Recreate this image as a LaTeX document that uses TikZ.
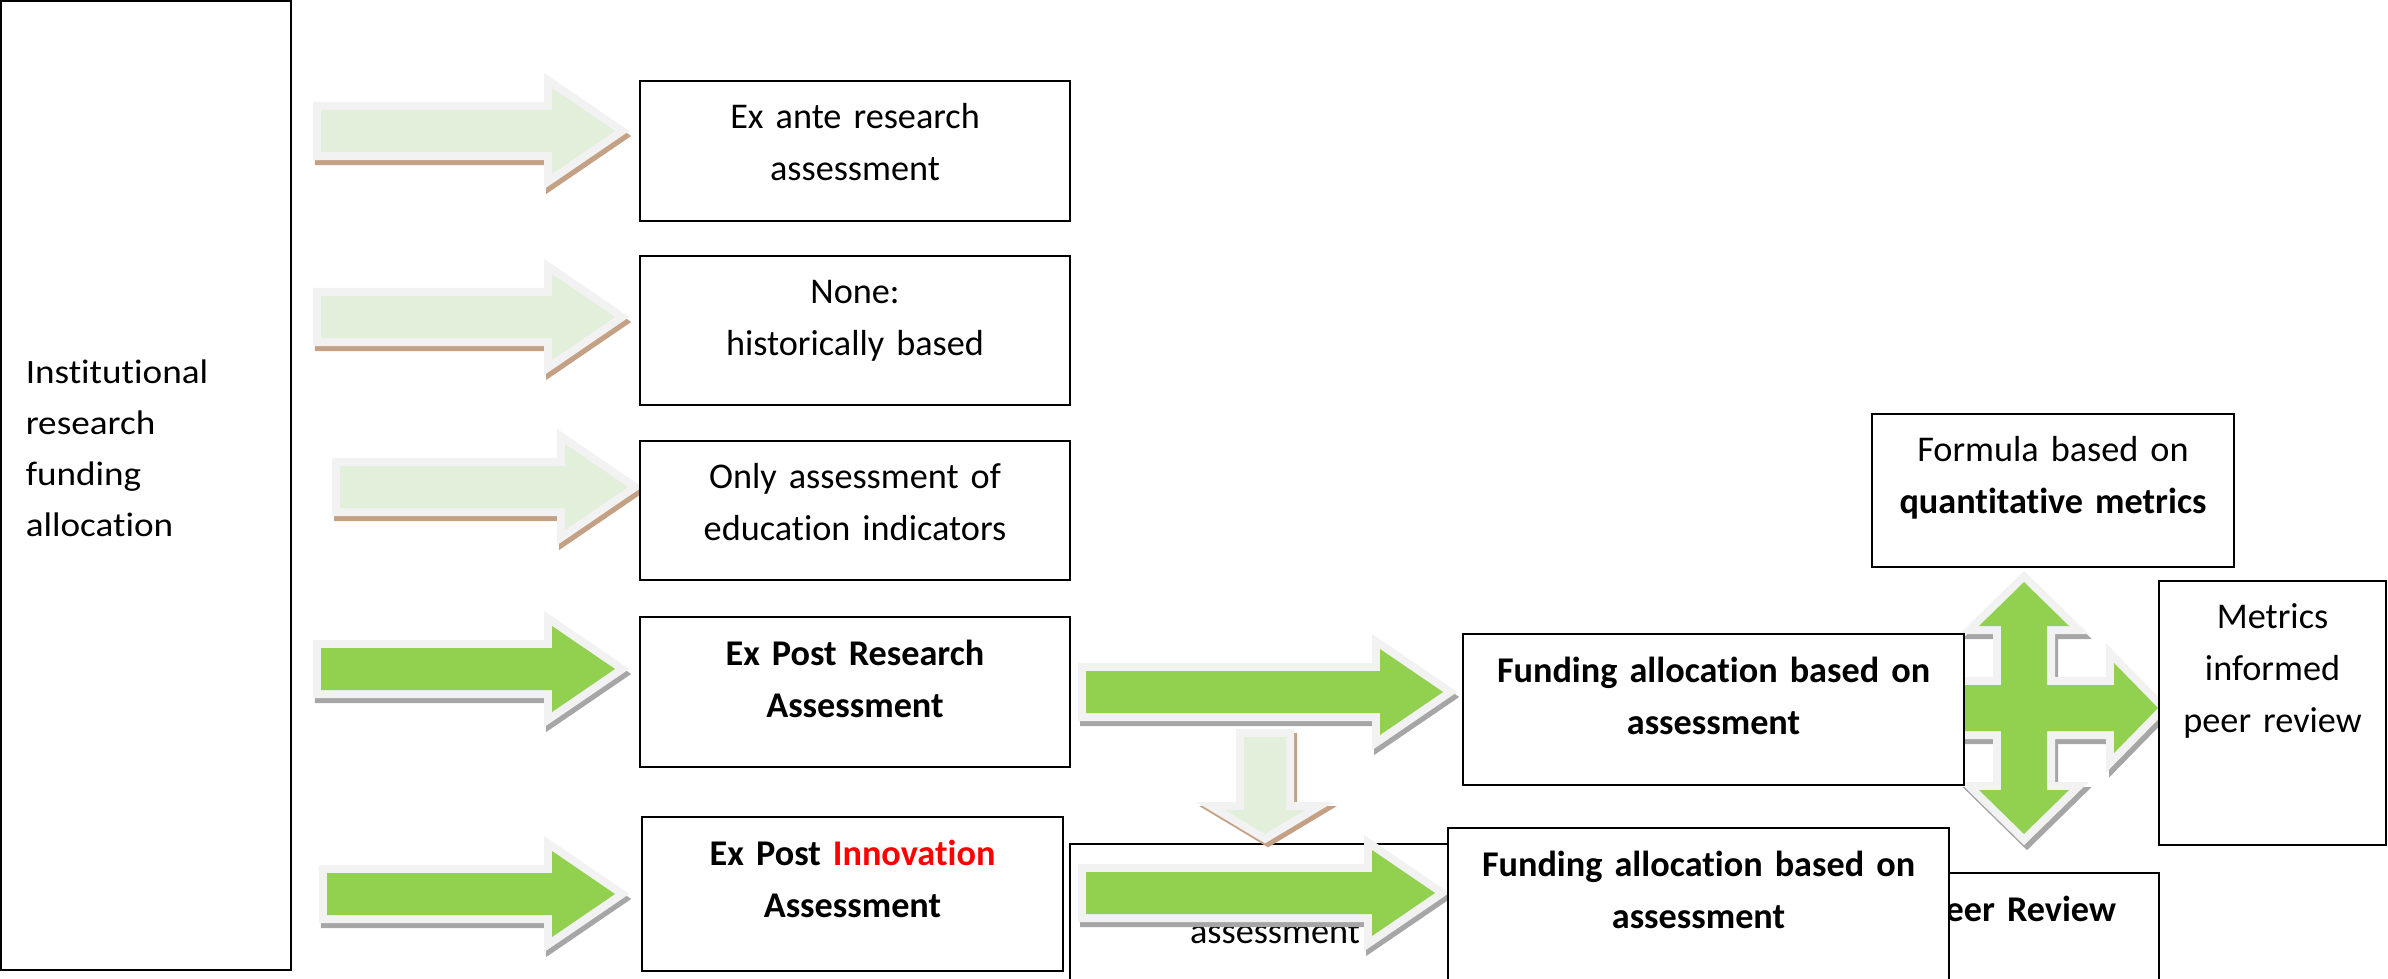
\documentclass[tikz,border=0pt]{standalone}
\usepackage{fontspec}
\setmainfont{Carlito}[Ligatures=NoCommon]
\newfontfamily\wideFont[FakeStretch=1.09, Ligatures=NoCommon]{Carlito}
\usetikzlibrary{positioning, fit, calc}
\definecolor{arrowGreen}{HTML}{92D050}
\definecolor{paleGreen}{HTML}{E2EFDA}
\definecolor{edgeGrey}{HTML}{F2F2F2}
\definecolor{shadowGrey}{HTML}{A6A6A6}
\definecolor{shadowTan}{HTML}{C4A084}
\definecolor{innovRed}{HTML}{FF0000}
\tikzset{
    stage/.style={draw=black, fill=white, line width=0.55pt, inner sep=0pt},
    stagetext/.style={anchor=north, inner sep=0pt, align=center,
        font=\fontsize{10.3}{14.8}\selectfont,
        execute at begin node={\rule{0pt}{0.25cm}}},
    rim/.style={line width=0.16cm, line join=miter, miter limit=10},
}
% Right block arrow: start x, centre y, length, face colour, shadow colour
\newcommand{\DrawRight}[5]{
    \begin{scope}[shift={(#1,#2)}]
        \def\shapepath{(0,-21) -- (#3-63,-21) -- (#3-63,-43) -- (#3,0) -- (#3-63,43) -- (#3-63,21) -- (0,21) -- cycle}
        % Shadow
        \filldraw[rim, #5, shift={(2,5)}] \shapepath;
        % Rim
        \filldraw[rim, edgeGrey] \shapepath;
        % Face
        \fill[#4] \shapepath;
    \end{scope}
}
% Down block arrow: centre x, top y
\newcommand{\DrawDown}[2]{
    \begin{scope}[shift={(#1,#2)}]
        \def\shapepath{(-21,0) -- (21,0) -- (21,73) -- (40,73) -- (0,97) -- (-40,73) -- (-21,73) -- cycle}
        % Shadow
        \filldraw[rim, shadowTan, shift={(3,4)}] \shapepath;
        % Rim
        \filldraw[rim, edgeGrey] \shapepath;
        % Face
        \fill[paleGreen] \shapepath;
    \end{scope}
}
% Four-way block arrow: centre x, centre y
\newcommand{\DrawCross}[2]{
    \begin{scope}[shift={(#1,#2)}]
        \def\shapepath{(0,-126) -- (45,-82) -- (23,-82) -- (23,-23) -- (90,-23) -- (90,-45) -- (134,0) -- (90,45) -- (90,23) -- (23,23) -- (23,82) -- (45,82) -- (0,126) -- (-45,82) -- (-23,82) -- (-23,23) -- (-90,23) -- (-90,45) -- (-134,0) -- (-90,-45) -- (-90,-23) -- (-23,-23) -- (-23,-82) -- (-45,-82) -- cycle}
        % Shadow
        \filldraw[rim, shadowGrey, shift={(3,5)}] \shapepath;
        % Rim
        \filldraw[rim, edgeGrey] \shapepath;
        % Face
        \fill[arrowGreen] \shapepath;
    \end{scope}
}

\begin{document}
\begin{tikzpicture}[x=0.01cm, y=-0.01cm]
    \useasboundingbox (0,0) rectangle (2388,979);
    \clip (0,0) rectangle (2388,979);

    % Boxes that sit underneath the others
    \node[stage, fit={(1070,844) (1480,1010)}] (hiddenfund) {};
    \node[stagetext, text width=4.8cm] (hiddenfund-t) at ([yshift=-0.23cm]hiddenfund.north) {Allocation based on\\assessment};
    \node[stage, fit={(1884,873) (2159,1010)}] (peerrev) {};
    \node[stagetext, text width=2.6cm, font=\fontsize{10.3}{14.8}\selectfont\bfseries] (peerrev-t) at ([yshift=-0.23cm]peerrev.north) {Peer Review};

    % Block arrows
    \DrawCross{2024}{708}
    \foreach \sx/\cy/\len/\face/\shade in {321/131/294/paleGreen/shadowTan, 321/317/294/paleGreen/shadowTan, 340/487/288/paleGreen/shadowTan, 321/669/294/arrowGreen/shadowGrey, 327/894/288/arrowGreen/shadowGrey, 1086/692/357/arrowGreen/shadowGrey, 1086/893/349/arrowGreen/shadowGrey} {
        \DrawRight{\sx}{\cy}{\len}{\face}{\shade}
    }
    \DrawDown{1265}{737}

    % Left column
    \node[stage, fit={(1,1) (291,970)}] (institutional) {};
    \node[anchor=north west, inner sep=0pt, align=left, font=\wideFont\fontsize{9.7}{14.5}\selectfont] (institutional-t) at ([xshift=0.25cm, yshift=-3.58cm]institutional.north west) {\rule{0pt}{0.25cm}Institutional\\research\\funding\\allocation};

    % Assessment types
    \node[stage, fit={(640,81) (1070,221)}] (exante) {};
    \node[stagetext, text width=4cm] (exante-t) at ([yshift=-0.23cm]exante.north) {Ex ante research\\assessment};
    \node[stage, fit={(640,256) (1070,405)}] (nonehist) {};
    \node[stagetext, text width=4cm] (nonehist-t) at ([yshift=-0.23cm]nonehist.north) {None:\\historically based};
    \node[stage, fit={(640,441) (1070,580)}] (onlyedu) {};
    \node[stagetext, text width=4cm] (onlyedu-t) at ([yshift=-0.23cm]onlyedu.north) {Only assessment of\\education indicators};
    \node[stage, fit={(640,617) (1070,767)}] (expostres) {};
    \node[stagetext, text width=4cm] (expostres-t) at ([yshift=-0.23cm]expostres.north) {\textbf{Ex Post Research}\\\textbf{Assessment}};
    \node[stage, fit={(642,817) (1063,971)}] (expostinn) {};
    \node[stagetext, text width=4cm] (expostinn-t) at ([yshift=-0.23cm]expostinn.north) {\textbf{Ex Post \textcolor{innovRed}{Innovation}}\\\textbf{Assessment}};

    % Funding allocation
    \node[stage, fit={(1463,634) (1964,785)}] (fundres) {};
    \node[stagetext, text width=4.8cm] (fundres-t) at ([yshift=-0.23cm]fundres.north) {\textbf{Funding allocation based on}\\\textbf{assessment}};
    \node[stage, fit={(1448,828) (1949,1010)}] (fundinn) {};
    \node[stagetext, text width=4.8cm] (fundinn-t) at ([yshift=-0.23cm]fundinn.north) {\textbf{Funding allocation based on}\\\textbf{assessment}};

    % Allocation methods
    \node[stage, fit={(1872,414) (2234,567)}] (formula) {};
    \node[stagetext, text width=3.5cm] (formula-t) at ([yshift=-0.23cm]formula.north) {Formula based on\\\textbf{quantitative metrics}};
    \node[stage, fit={(2159,581) (2386,845)}] (metricspeer) {};
    \node[stagetext, text width=2.2cm] (metricspeer-t) at ([yshift=-0.23cm]metricspeer.north) {Metrics\\informed\\peer review};
\end{tikzpicture}
\end{document}
